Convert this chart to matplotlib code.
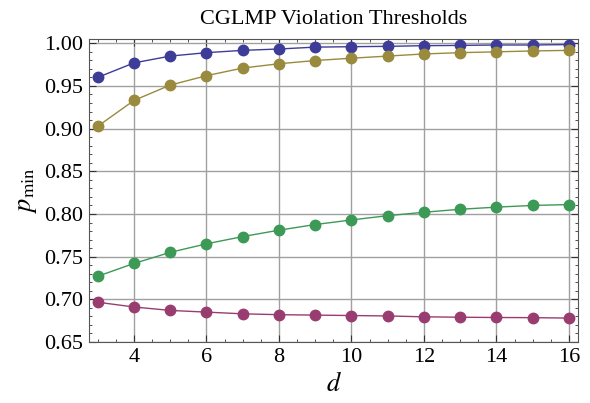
import numpy as np
import matplotlib.pyplot as plt
from matplotlib.ticker import MultipleLocator

# Datos
d = [3, 4, 5, 6, 7, 8, 9, 10, 11, 12, 13, 14, 15, 16]
p_azul = [0.960, 0.977, 0.985, 0.989, 0.9917, 0.9933, 0.9955, 0.996, 0.9964,
          0.9972, 0.9975, 0.998, 0.998, 0.9985]
p_oliva = [0.9027, 0.933, 0.951, 0.962, 0.971, 0.976, 0.9798, 0.9825, 0.985,
           0.9875, 0.989, 0.990, 0.991, 0.9917]
p_verde = [0.727, 0.742, 0.755, 0.765, 0.7735, 0.781, 0.7876, 0.793, 0.798,
           0.802, 0.8055, 0.808, 0.810, 0.811]
p_morado = [0.6966, 0.691, 0.687, 0.685, 0.683, 0.682, 0.6815, 0.681, 0.6805,
            0.6795, 0.679, 0.6787, 0.6785, 0.678]

colores = ["#3d3d99", "#998a3d", "#3d9956", "#993d71"]

plt.rcParams['font.family'] = ['Liberation Serif', 'DejaVu Serif']
plt.rcParams['mathtext.fontset'] = 'stix'

fig = plt.figure(figsize=(5.9, 4.03), dpi=100)
ax = fig.add_axes([0.1508, 0.1514, 0.8289, 0.7518])

for serie, c in zip([p_azul, p_oliva, p_verde, p_morado], colores):
    ax.plot(d, serie, color=c, lw=1.0, marker='o', ms=7.5, zorder=3)

ax.set_xlim(2.76, 16.25)
ax.set_ylim(0.65, 1.005)
ax.set_xticks(np.arange(4, 17, 2))
ax.set_yticks(np.arange(0.65, 1.001, 0.05))
ax.yaxis.set_major_formatter(plt.FuncFormatter(lambda v, p: f"{v:.2f}"))
ax.xaxis.set_minor_locator(MultipleLocator(0.5))
ax.yaxis.set_minor_locator(MultipleLocator(0.01))
ax.tick_params(which='both', direction='in', top=True, right=True,
               labelsize=16, color='#333333')
ax.tick_params(which='major', length=5, width=0.8, pad=4)
ax.tick_params(which='minor', length=2.5, width=0.6)
ax.grid(True, color='#a0a0a0', lw=1.0)

for s in ax.spines.values():
    s.set_color('#555555')

ax.set_title("CGLMP Violation Thresholds", fontsize=16, pad=11)
ax.set_xlabel("$d$", fontsize=19, labelpad=4)
ax.set_ylabel(r"$p_{\mathrm{min}}$", fontsize=19, labelpad=4)

plt.savefig("out.png")
